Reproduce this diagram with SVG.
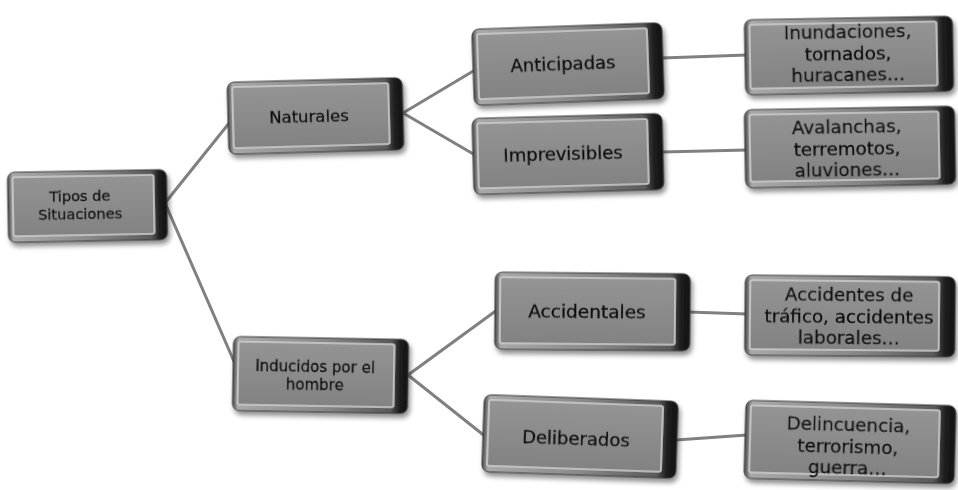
<svg xmlns="http://www.w3.org/2000/svg" width="958" height="490" viewBox="0 0 958 490">
<defs>
<linearGradient id="gBase" x1="0" y1="0" x2="1" y2="0">
<stop offset="0" stop-color="#4a4a4a"/>
<stop offset="0.03" stop-color="#a8a8a8"/>
<stop offset="0.5" stop-color="#8a8a8a"/>
<stop offset="0.9" stop-color="#5a5a5a"/>
<stop offset="0.95" stop-color="#202020"/>
<stop offset="1" stop-color="#101010"/>
</linearGradient>
<linearGradient id="gFace" x1="0" y1="0" x2="0" y2="1">
<stop offset="0" stop-color="#949494"/>
<stop offset="1" stop-color="#828282"/>
</linearGradient>
<filter id="sh" x="-10%" y="-10%" width="125%" height="130%">
<feGaussianBlur in="SourceAlpha" stdDeviation="2.5"/>
<feOffset dx="2" dy="4" result="b"/>
<feComponentTransfer><feFuncA type="linear" slope="0.45"/></feComponentTransfer>
<feMerge><feMergeNode/><feMergeNode in="SourceGraphic"/></feMerge>
</filter>
</defs>
<style>
.base{fill:url(#gBase);stroke:#3a3a3a;stroke-width:1}
.face{fill:url(#gFace);stroke:#cfcfcf;stroke-width:1.6}
.t{font-family:"DejaVu Sans","Liberation Sans",sans-serif;fill:#0d0d0d;stroke:#0d0d0d;stroke-width:0.3;text-anchor:middle}
.c{stroke:#808080;stroke-width:3;fill:none;stroke-linecap:round}
</style>
<rect width="958" height="490" fill="#ffffff"/>
<g id="connectors">
<line class="c" x1="165" y1="203" x2="230" y2="122"/>
<line class="c" x1="165" y1="203" x2="236" y2="366"/>
<line class="c" x1="403" y1="113" x2="475" y2="70"/>
<line class="c" x1="403" y1="113" x2="475" y2="155"/>
<line class="c" x1="662" y1="58" x2="747" y2="55"/>
<line class="c" x1="662" y1="152" x2="747" y2="150"/>
<line class="c" x1="408" y1="375" x2="497" y2="310"/>
<line class="c" x1="408" y1="375" x2="486" y2="437"/>
<line class="c" x1="688" y1="312" x2="747" y2="314"/>
<line class="c" x1="676" y1="440" x2="747" y2="435"/>
</g>
<g id="n-tipos" filter="url(#sh)" transform="rotate(-1 87 205)">
<rect class="base" x="8" y="171" width="159" height="70" rx="7"/>
<rect class="face" x="13" y="176" width="141" height="59" rx="2"/>
<text class="t" font-size="14.6" x="80" y="201">Tipos de</text>
<text class="t" font-size="14.6" x="80" y="218.5">Situaciones</text>
</g>
<g id="n-naturales" filter="url(#sh)" transform="rotate(-1.5 315 116)">
<rect class="base" x="228" y="80" width="175" height="72" rx="7"/>
<rect class="face" x="233" y="85" width="156" height="61" rx="2"/>
<text class="t" font-size="16.5" x="309" y="122">Naturales</text>
</g>
<g id="n-anticipadas" filter="url(#sh)" transform="rotate(-2 568 64)">
<rect class="base" x="473" y="26" width="190" height="76" rx="7"/>
<rect class="face" x="478" y="31" width="170" height="65" rx="2"/>
<text class="t" font-size="18" x="563" y="70">Anticipadas</text>
</g>
<g id="n-imprevisibles" filter="url(#sh)" transform="rotate(-1.5 568 154)">
<rect class="base" x="473" y="116" width="190" height="76" rx="7"/>
<rect class="face" x="478" y="121" width="170" height="65" rx="2"/>
<text class="t" font-size="18" x="563" y="160">Imprevisibles</text>
</g>
<g id="n-inundaciones" filter="url(#sh)" transform="rotate(-1 849 55)">
<rect class="base" x="745" y="18" width="208" height="75" rx="7"/>
<rect class="face" x="750" y="23" width="187" height="64" rx="2"/>
<text class="t" font-size="18.3" x="848" y="38">Inundaciones,</text>
<text class="t" font-size="18.3" x="848" y="59.5">tornados,</text>
<text class="t" font-size="18.3" x="848" y="81">huracanes…</text>
</g>
<g id="n-avalanchas" filter="url(#sh)" transform="rotate(-1 850 147)">
<rect class="base" x="745" y="108" width="210" height="78" rx="7"/>
<rect class="face" x="750" y="113" width="189" height="67" rx="2"/>
<text class="t" font-size="18.3" x="847" y="133">Avalanchas,</text>
<text class="t" font-size="18.3" x="847" y="154.5">terremotos,</text>
<text class="t" font-size="18.3" x="847" y="176">aluviones…</text>
</g>
<g id="n-inducidos" filter="url(#sh)" transform="rotate(1 320 375)">
<rect class="base" x="233" y="338" width="175" height="74" rx="7"/>
<rect class="face" x="238" y="343" width="156" height="63" rx="2"/>
<text class="t" font-size="15" x="315" y="371.5">Inducidos por el</text>
<text class="t" font-size="15" x="315" y="389.5">hombre</text>
</g>
<g id="n-accidentales" filter="url(#sh)" transform="rotate(0.5 592 312)">
<rect class="base" x="495" y="273" width="195" height="77" rx="7"/>
<rect class="face" x="500" y="278" width="175" height="66" rx="2"/>
<text class="t" font-size="18.5" x="587" y="318">Accidentales</text>
</g>
<g id="n-accidentes" filter="url(#sh)" transform="rotate(0.5 850 316)">
<rect class="base" x="745" y="276" width="210" height="80" rx="7"/>
<rect class="face" x="750" y="281" width="189" height="69" rx="2"/>
<text class="t" font-size="18.3" x="849" y="301">Accidentes de</text>
<text class="t" font-size="18.3" x="849" y="322.5">tráfico, accidentes</text>
<text class="t" font-size="18.3" x="849" y="344">laborales…</text>
</g>
<g id="n-deliberados" filter="url(#sh)" transform="rotate(2 580 437)">
<rect class="base" x="483" y="398" width="194" height="77" rx="7"/>
<rect class="face" x="488" y="403" width="174" height="66" rx="2"/>
<text class="t" font-size="18" x="576" y="445">Deliberados</text>
</g>
<g id="n-delincuencia" filter="url(#sh)" transform="rotate(1.5 850 442)">
<rect class="base" x="745" y="403" width="210" height="78" rx="7"/>
<rect class="face" x="750" y="408" width="189" height="67" rx="2"/>
<text class="t" font-size="18.3" x="848" y="431">Delincuencia,</text>
<text class="t" font-size="18.3" x="848" y="452.5">terrorismo,</text>
<text class="t" font-size="18.3" x="848" y="474">guerra…</text>
</g>
</svg>
